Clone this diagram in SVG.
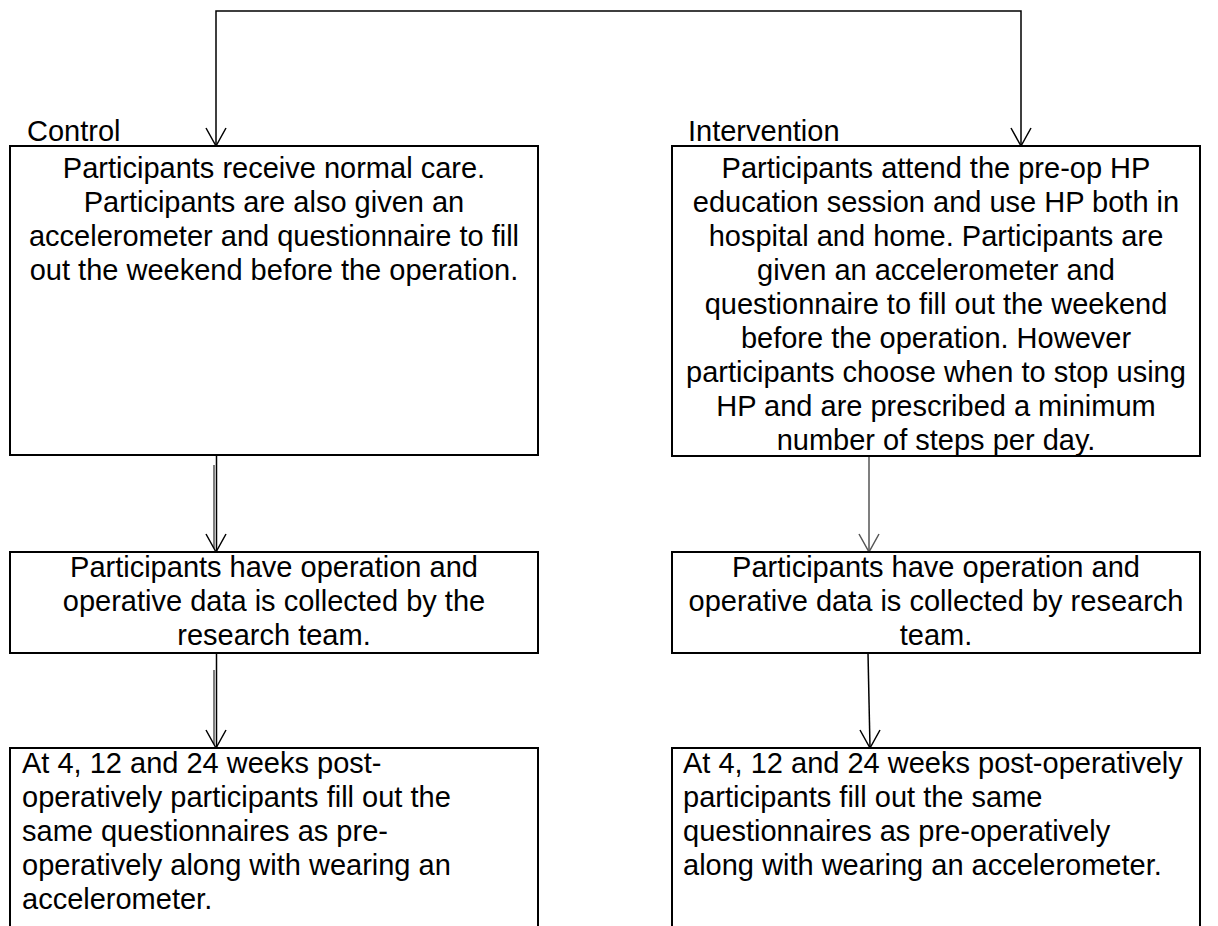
<svg xmlns="http://www.w3.org/2000/svg" width="1218" height="926" viewBox="0 0 1218 926">
<defs>
<style>
.box{fill:#fff;stroke:#000;stroke-width:2}
.t{font-family:"Liberation Sans",Arial,sans-serif;font-size:29px;fill:#000}
.c{text-anchor:middle}
.ln{fill:none;stroke:#000;stroke-width:1.5}
.g{fill:none;stroke:#555;stroke-width:1.5}
</style>
</defs>
<rect width="1218" height="926" fill="#fff"/>
<g id="connectors">
<polyline class="ln" points="216,146 216,11 1021,11 1021,146"/>
<polyline class="ln" points="206,128 216,146 226,128"/>
<polyline class="ln" points="1011,128 1021,146 1031,128"/>
<line class="ln" x1="216.5" y1="455" x2="216.5" y2="552"/>
<line class="g" x1="214" y1="465" x2="214" y2="548"/>
<polyline class="ln" points="206,534 216,552 226,534"/>
<line class="g" x1="869" y1="456" x2="869" y2="552"/>
<polyline class="g" points="859,534 869,552 879,534"/>
<line class="ln" x1="216.5" y1="653" x2="216.5" y2="748"/>
<line class="g" x1="214" y1="670" x2="214" y2="744"/>
<polyline class="ln" points="206,730 216,748 226,730"/>
<line class="ln" x1="868" y1="653" x2="870" y2="748"/>
<polyline class="ln" points="860,730 870,748 880,730"/>
</g>
<g id="label-control"><text class="t" x="27" y="141">Control</text></g>
<g id="label-intervention"><text class="t" x="688" y="141">Intervention</text></g>
<g id="control-1">
<rect class="box" x="10" y="146" width="528" height="309"/>
<text class="t c" x="274" y="178">Participants receive normal care.</text>
<text class="t c" x="274" y="212">Participants are also given an</text>
<text class="t c" x="274" y="246">accelerometer and questionnaire to fill</text>
<text class="t c" x="274" y="280">out the weekend before the operation.</text>
</g>
<g id="intervention-1">
<rect class="box" x="672" y="146" width="528" height="310"/>
<text class="t c" x="936" y="178">Participants attend the pre-op HP</text>
<text class="t c" x="936" y="212">education session and use HP both in</text>
<text class="t c" x="936" y="246">hospital and home.  Participants are</text>
<text class="t c" x="936" y="280">given an accelerometer and</text>
<text class="t c" x="936" y="314">questionnaire to fill out the weekend</text>
<text class="t c" x="936" y="348">before the operation.  However</text>
<text class="t c" x="936" y="382">participants choose when to stop using</text>
<text class="t c" x="936" y="416">HP and are prescribed a minimum</text>
<text class="t c" x="936" y="450">number of steps per day.</text>
</g>
<g id="control-2">
<rect class="box" x="10" y="552" width="528" height="101"/>
<text class="t c" x="274" y="577">Participants have operation and</text>
<text class="t c" x="274" y="611">operative data is collected by the</text>
<text class="t c" x="274" y="645">research team.</text>
</g>
<g id="intervention-2">
<rect class="box" x="672" y="552" width="528" height="101"/>
<text class="t c" x="936" y="577">Participants have operation and</text>
<text class="t c" x="936" y="611">operative data is collected by research</text>
<text class="t c" x="936" y="645">team.</text>
</g>
<g id="control-3">
<rect class="box" x="10" y="748" width="528" height="200"/>
<text class="t" x="22" y="773">At 4, 12 and 24 weeks post-</text>
<text class="t" x="22" y="807">operatively participants fill out the</text>
<text class="t" x="22" y="841">same questionnaires as pre-</text>
<text class="t" x="22" y="875">operatively along with wearing an</text>
<text class="t" x="22" y="909">accelerometer.</text>
</g>
<g id="intervention-3">
<rect class="box" x="672" y="748" width="528" height="200"/>
<text class="t" x="683" y="773">At 4, 12 and 24 weeks post-operatively</text>
<text class="t" x="683" y="807">participants fill out the same</text>
<text class="t" x="683" y="841">questionnaires as pre-operatively</text>
<text class="t" x="683" y="875">along with wearing an accelerometer.</text>
</g>
</svg>
